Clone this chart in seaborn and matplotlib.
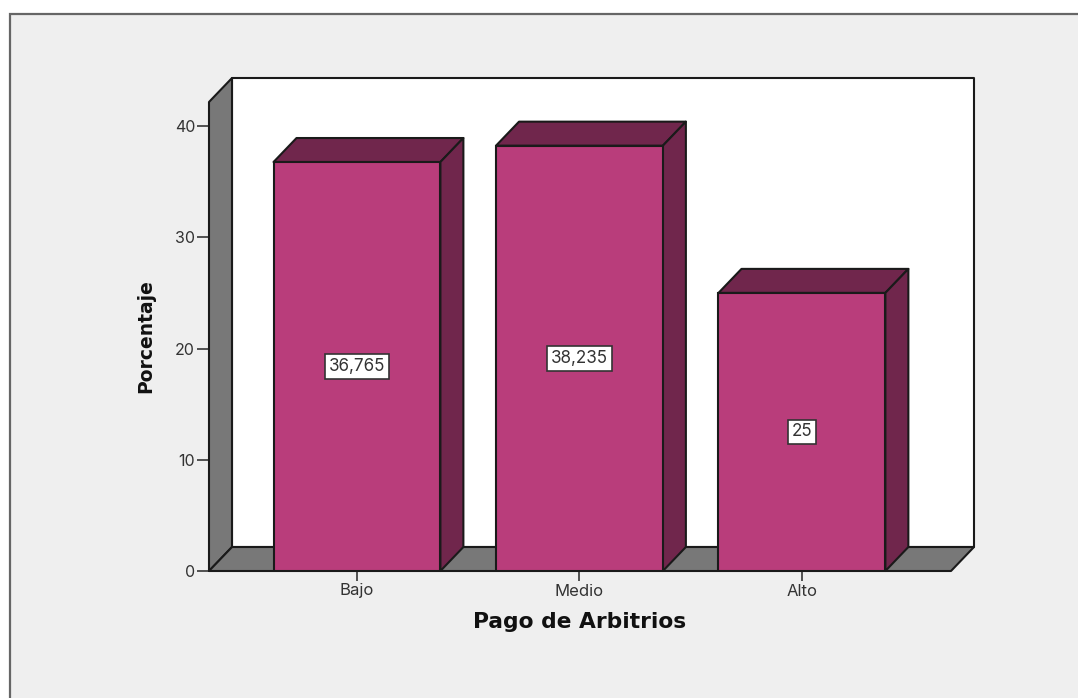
import pandas as pd
import matplotlib
matplotlib.use("Agg")
import matplotlib.pyplot as plt
from matplotlib.patches import Polygon, Rectangle
import seaborn as sns

categories = ["Bajo", "Medio", "Alto"]
porcentaje = [36.765, 38.235, 25]
y_ticks = [0, 10, 20, 30, 40]

W, H = 1078, 698
FRONT = "#B93D7B"
DARK = "#70264C"
GREY = "#787878"
EDGE = "#1A1A1A"
PANEL = "#EFEFEF"

sns.set_style("white")
plt.rcParams["font.family"] = ["Inter", "Liberation Sans", "DejaVu Sans"]

fig = plt.figure(figsize=(W / 100, H / 100), dpi=100, facecolor="white")

# grey panel behind everything, open on the right and bottom
fig.add_artist(Rectangle((10 / W, -0.02), 1.02, (H - 14) / H + 0.02, transform=fig.transFigure,
                         facecolor=PANEL, edgecolor="#666666", lw=1.6, zorder=-1))

# axes = the front plane of the fake 3D box
left, right, base, top = 209, 951, 571, 102
ax = fig.add_axes([left / W, (H - base) / H, (right - left) / W, (base - top) / H])
ax.patch.set_alpha(0)

df = pd.DataFrame({"Pago": categories, "Porcentaje": porcentaje})
sns.barplot(data=df, x="Pago", y="Porcentaje", color=FRONT, saturation=1, width=0.75,
            edgecolor=EDGE, linewidth=1.5, ax=ax, zorder=3)

ax.set_xlim(-0.665, 2.67)
ax.set_ylim(0, 42.16)

# depth of the box in data units
dx = 23 / 222.5
dy = 24 / 11.125
x0, x1 = ax.get_xlim()
y0, y1 = ax.get_ylim()


def face(points, color, z):
    ax.add_patch(Polygon(points, closed=True, facecolor=color, edgecolor=EDGE, lw=1.5,
                         clip_on=False, zorder=z, joinstyle="round"))


# top and side of each bar, taken from the bars seaborn drew
for bar in list(ax.patches)[:len(categories)]:
    a, b, h = bar.get_x(), bar.get_x() + bar.get_width(), bar.get_height()
    face([(a, h), (b, h), (b + dx, h + dy), (a + dx, h + dy)], DARK, 2.5)
    face([(b, 0), (b + dx, dy), (b + dx, h + dy), (b, h)], DARK, 2.5)
    ax.text(a + bar.get_width() / 2, h / 2, f"{h:g}".replace(".", ","), ha="center", va="center",
            fontsize=12.3, color="#333333", zorder=5,
            bbox=dict(boxstyle="square,pad=0.22", facecolor="white", edgecolor="#333333", lw=1.2))

# walls
face([(x0 + dx, y0 + dy), (x1 + dx, y0 + dy), (x1 + dx, y1 + dy), (x0 + dx, y1 + dy)], "white", 1)
face([(x0, y0), (x0 + dx, y0 + dy), (x0 + dx, y1 + dy), (x0, y1)], GREY, 1.5)
face([(x0, y0), (x1, y0), (x1 + dx, y0 + dy), (x0 + dx, y0 + dy)], GREY, 1.5)

sns.despine(ax=ax, left=True, bottom=True, top=True, right=True)
ax.set_yticks(y_ticks)
ax.tick_params(axis="y", left=True, length=9, width=1.3, color="#444444", labelsize=11.5,
               labelcolor="#333333", pad=1)
ax.tick_params(axis="x", bottom=True, length=7, width=1.3, color="#444444", labelsize=12,
               labelcolor="#333333", pad=2)
ax.set_xlabel("Pago de Arbitrios", family="DejaVu Sans", fontsize=15.7, fontweight="bold",
              color="#111111", labelpad=9.5)
ax.set_ylabel("Porcentaje", family="DejaVu Sans", fontsize=13.5, fontweight="bold",
              color="#111111", labelpad=14)

fig.savefig("out.png", dpi=100, facecolor=fig.get_facecolor())
